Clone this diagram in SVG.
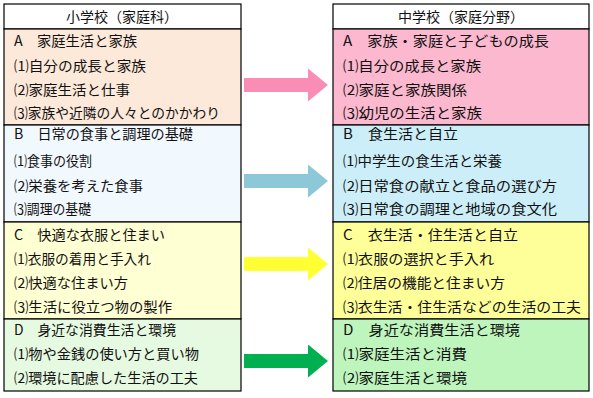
<svg xmlns="http://www.w3.org/2000/svg" xmlns:xlink="http://www.w3.org/1999/xlink" width="593" height="398" viewBox="0 0 593 398">
<style>
.box{stroke:#000;stroke-width:1.2}
text{font-family:"Noto Sans CJK JP","Noto Sans CJK SC",sans-serif;font-size:14px;fill:#111}
.h{text-anchor:middle}
</style>
<defs>
<path id="arrow" d="M0,-7 L64,-7 L64,-16.5 L84,0 L64,16.5 L64,7 L0,7 Z"/>
</defs>
<rect width="593" height="398" fill="#fff"/>
<g id="left-header"><rect class="box" x="4" y="4" width="237" height="25" fill="#fff"/><text class="h" x="122" y="21.5">小学校（家庭科）</text></g>
<g id="left-A"><rect class="box" x="4" y="29" width="237" height="96" fill="#FDE9D9"/>
<text x="14" y="46" textLength="123" lengthAdjust="spacingAndGlyphs">A　家庭生活と家族</text>
<text x="14" y="71" textLength="132" lengthAdjust="spacingAndGlyphs">⑴自分の成長と家族</text>
<text x="14" y="95" textLength="116" lengthAdjust="spacingAndGlyphs">⑵家庭生活と仕事</text>
<text x="14" y="118" textLength="206" lengthAdjust="spacingAndGlyphs">⑶家族や近隣の人々とのかかわり</text></g>
<g id="left-B"><rect class="box" x="4" y="125" width="237" height="97" fill="#F1F8FE"/>
<text x="14" y="139" textLength="179" lengthAdjust="spacingAndGlyphs">B　日常の食事と調理の基礎</text>
<text x="14" y="166" textLength="78" lengthAdjust="spacingAndGlyphs">⑴食事の役割</text>
<text x="14" y="191" textLength="129" lengthAdjust="spacingAndGlyphs">⑵栄養を考えた食事</text>
<text x="14" y="214" textLength="77" lengthAdjust="spacingAndGlyphs">⑶調理の基礎</text></g>
<g id="left-C"><rect class="box" x="4" y="222" width="237" height="97" fill="#FFFFD4"/>
<text x="14" y="240" textLength="151" lengthAdjust="spacingAndGlyphs">C　快適な衣服と住まい</text>
<text x="14" y="264" textLength="137" lengthAdjust="spacingAndGlyphs">⑴衣服の着用と手入れ</text>
<text x="14" y="288" textLength="114" lengthAdjust="spacingAndGlyphs">⑵快適な住まい方</text>
<text x="14" y="312" textLength="158" lengthAdjust="spacingAndGlyphs">⑶生活に役立つ物の製作</text></g>
<g id="left-D"><rect class="box" x="4" y="319" width="237" height="72" fill="#E6F9E1"/>
<text x="14" y="335" textLength="162" lengthAdjust="spacingAndGlyphs">D　身近な消費生活と環境</text>
<text x="14" y="359" textLength="185" lengthAdjust="spacingAndGlyphs">⑴物や金銭の使い方と買い物</text>
<text x="14" y="383" textLength="184" lengthAdjust="spacingAndGlyphs">⑵環境に配慮した生活の工夫</text></g>
<g id="right-header"><rect class="box" x="333" y="4" width="256" height="25" fill="#fff"/><text class="h" x="461" y="21.5">中学校（家庭分野）</text></g>
<g id="right-A"><rect class="box" x="333" y="29" width="256" height="96" fill="#FBB8CE"/>
<text x="343" y="46" textLength="206" lengthAdjust="spacingAndGlyphs">A　家族・家庭と子どもの成長</text>
<text x="343" y="71" textLength="138" lengthAdjust="spacingAndGlyphs">⑴自分の成長と家族</text>
<text x="343" y="95" textLength="124" lengthAdjust="spacingAndGlyphs">⑵家庭と家族関係</text>
<text x="343" y="118" textLength="139" lengthAdjust="spacingAndGlyphs">⑶幼児の生活と家族</text></g>
<g id="right-B"><rect class="box" x="333" y="125" width="256" height="97" fill="#CCEEF8"/>
<text x="343" y="139" textLength="115" lengthAdjust="spacingAndGlyphs">B　食生活と自立</text>
<text x="343" y="166" textLength="159" lengthAdjust="spacingAndGlyphs">⑴中学生の食生活と栄養</text>
<text x="343" y="191" textLength="214" lengthAdjust="spacingAndGlyphs">⑵日常食の献立と食品の選び方</text>
<text x="343" y="214" textLength="214" lengthAdjust="spacingAndGlyphs">⑶日常食の調理と地域の食文化</text></g>
<g id="right-C"><rect class="box" x="333" y="222" width="256" height="97" fill="#FFFF99"/>
<text x="343" y="240" textLength="175" lengthAdjust="spacingAndGlyphs">C　衣生活・住生活と自立</text>
<text x="343" y="264" textLength="151" lengthAdjust="spacingAndGlyphs">⑴衣服の選択と手入れ</text>
<text x="343" y="288" textLength="162" lengthAdjust="spacingAndGlyphs">⑵住居の機能と住まい方</text>
<text x="343" y="312" textLength="238" lengthAdjust="spacingAndGlyphs">⑶衣生活・住生活などの生活の工夫</text></g>
<g id="right-D"><rect class="box" x="333" y="319" width="256" height="72" fill="#BDF5BD"/>
<text x="343" y="335" textLength="177" lengthAdjust="spacingAndGlyphs">D　身近な消費生活と環境</text>
<text x="343" y="359" textLength="124" lengthAdjust="spacingAndGlyphs">⑴家庭生活と消費</text>
<text x="343" y="383" textLength="124" lengthAdjust="spacingAndGlyphs">⑵家庭生活と環境</text></g>
<g id="connectors">
<use xlink:href="#arrow" href="#arrow" transform="translate(244,85)" fill="#F98DB6"/>
<use xlink:href="#arrow" href="#arrow" transform="translate(244,181)" fill="#8CC8D8"/>
<use xlink:href="#arrow" href="#arrow" transform="translate(244,264)" fill="#FFFF33"/>
<use xlink:href="#arrow" href="#arrow" transform="translate(244,361)" fill="#00B050"/>
</g>
</svg>
